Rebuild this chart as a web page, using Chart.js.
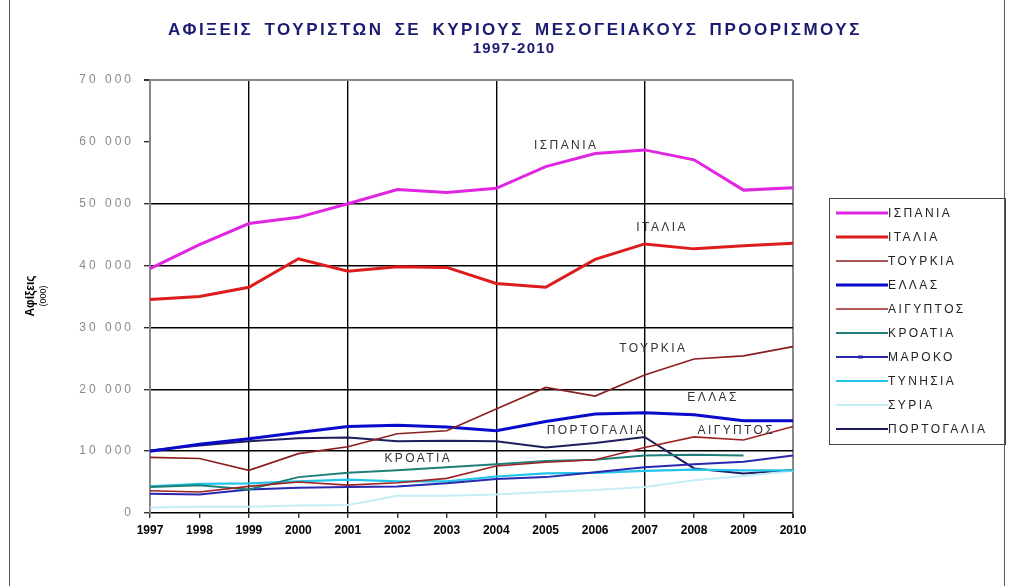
<!DOCTYPE html>
<html>
<head>
<meta charset="utf-8">
<script src="https://cdn.jsdelivr.net/npm/chart.js@4"></script>
<style>
  body { margin: 0; background: #fff; }
  #wrap { position: relative; width: 1011px; height: 586px; }
  #frame { position: absolute; left: 9px; top: 0; width: 994px; height: 586px;
           border-left: 1px solid #555; border-right: 1px solid #555; pointer-events: none; }
</style>
</head>
<body>
<div id="wrap">
  <canvas id="chartAfixeis" width="1011" height="586"></canvas>
  <div id="frame"></div>
</div>
<script>
var etos = ['1997', '1998', '1999', '2000', '2001', '2002', '2003', '2004', '2005', '2006', '2007', '2008', '2009', '2010'];

// afixeis se xiliades
var ispania    = [39500, 43400, 46800, 47800, 50000, 52300, 51800, 52500, 56000, 58100, 58700, 57100, 52200, 52600];
var italia     = [34500, 35000, 36500, 41100, 39100, 39800, 39700, 37100, 36500, 41000, 43500, 42700, 43200, 43600];
var tourkia    = [9000, 8800, 6900, 9600, 10700, 12800, 13300, 16800, 20300, 18900, 22300, 24900, 25400, 26900];
var ellas      = [10000, 11100, 12000, 13000, 14000, 14200, 13900, 13300, 14800, 16000, 16200, 15900, 14900, 14900];
var aigyptos   = [3600, 3400, 4300, 5000, 4500, 4900, 5600, 7600, 8200, 8600, 10600, 12300, 11800, 14000];
var kroatia    = [4200, 4500, 3800, 5800, 6500, 6900, 7400, 7900, 8400, 8600, 9300, 9400, 9300, null];
var maroko     = [3100, 3000, 3800, 4100, 4200, 4300, 4800, 5500, 5800, 6600, 7400, 7900, 8300, 9300];
var tynisia    = [4300, 4700, 4800, 5100, 5400, 5100, 5100, 5900, 6400, 6500, 6800, 7000, 6900, 6900];
var syria      = [900, 1000, 1000, 1200, 1300, 2800, 2800, 3000, 3400, 3700, 4200, 5300, 6000, 6800];
var portogalia = [10100, 10900, 11600, 12100, 12200, 11600, 11700, 11600, 10600, 11300, 12300, 7200, 6400, 6900];

var xores = ['ΙΣΠΑΝΙΑ', 'ΙΤΑΛΙΑ', 'ΤΟΥΡΚΙΑ', 'ΕΛΛΑΣ', 'ΑΙΓΥΠΤΟΣ', 'ΚΡΟΑΤΙΑ', 'ΜΑΡΟΚΟ', 'ΤΥΝΗΣΙΑ', 'ΣΥΡΙΑ', 'ΠΟΡΤΟΓΑΛΙΑ'];
var yTicks = [0, 10000, 20000, 30000, 40000, 50000, 60000, 70000];

var seires = [ispania, italia, tourkia, ellas, aigyptos, kroatia, maroko, tynisia, syria, portogalia];
var xromata = ['#e026e0', '#dd1c1c', '#8b1f1f', '#0a0acc', '#9c2424', '#1f7f78', '#2828b0', '#22c4ea', '#c4eef8', '#1e1e5e'];
var paxos = [3, 3, 1.6, 3, 1.6, 2, 2, 2.2, 2, 2];

var FONT = '"Liberation Sans", Arial, sans-serif';

// ta onomata mesa sto grafima (thesi se etos-index / timi)
var etiketes = [
    ['ΙΣΠΑΝΙΑ', 8.39, 59300],
    ['ΙΤΑΛΙΑ', 10.33, 46100],
    ['ΤΟΥΡΚΙΑ', 10.15, 26500],
    ['ΕΛΛΑΣ', 11.36, 18600],
    ['ΠΟΡΤΟΓΑΛΙΑ', 9.0, 13250],
    ['ΑΙΓΥΠΤΟΣ', 11.83, 13250],
    ['ΚΡΟΑΤΙΑ', 5.4, 8750]
];

var keimena = {
    id: 'keimena',
    afterDraw: function (chart) {
        var ctx = chart.ctx;
        var x = chart.scales.x;
        var y = chart.scales.y;
        ctx.save();

        // titlos
        ctx.fillStyle = '#1b1b72';
        ctx.font = 'bold 17px ' + FONT;
        ctx.textAlign = 'center';
        ctx.textBaseline = 'middle';
        ctx.letterSpacing = '2.5px';
        ctx.wordSpacing = '4px';
        ctx.fillText('ΑΦΙΞΕΙΣ ΤΟΥΡΙΣΤΩΝ ΣΕ ΚΥΡΙΟΥΣ ΜΕΣΟΓΕΙΑΚΟΥΣ ΠΡΟΟΡΙΣΜΟΥΣ', 515, 30);
        ctx.wordSpacing = '0px';
        ctx.font = 'bold 15px ' + FONT;
        ctx.letterSpacing = '1.2px';
        ctx.fillText('1997-2010', 514, 49);

        // etiketes aksona y
        ctx.fillStyle = '#8a8a8a';
        ctx.font = '12px ' + FONT;
        ctx.textAlign = 'right';
        ctx.letterSpacing = '3px';
        yTicks.forEach(function (v) {
            var t = v === 0 ? '0' : (v / 1000) + ' 000';
            ctx.fillText(t, x.left - 16, y.getPixelForValue(v));
        });

        // titlos aksona y
        ctx.letterSpacing = '0px';
        ctx.fillStyle = '#000';
        ctx.translate(31, 296);
        ctx.rotate(-Math.PI / 2);
        ctx.textAlign = 'center';
        ctx.font = 'bold 12px ' + FONT;
        ctx.fillText('Αφίξεις', 0, 0);
        ctx.font = '9px ' + FONT;
        ctx.fillText('(000)', 0, 13);
        ctx.setTransform(1, 0, 0, 1, 0, 0);

        // onomata xoron sto grafima
        ctx.fillStyle = '#333';
        ctx.font = '12px ' + FONT;
        ctx.letterSpacing = '2.4px';
        etiketes.forEach(function (e) {
            ctx.fillText(e[0], x.getPixelForValue(e[1]) + 1.2, y.getPixelForValue(e[2]));
        });

        // ypomnima
        var lx = 829, ly = 198, lw = 176, lh = 246;
        ctx.strokeStyle = '#444';
        ctx.lineWidth = 1;
        ctx.strokeRect(lx + 0.5, ly + 0.5, lw, lh);
        ctx.textAlign = 'left';
        ctx.font = '12px ' + FONT;
        ctx.letterSpacing = '2.4px';
        chart.data.datasets.forEach(function (ds, i) {
            var cy = ly + 15 + i * 24;
            ctx.strokeStyle = ds.borderColor;
            ctx.lineWidth = ds.borderWidth;
            ctx.beginPath();
            ctx.moveTo(836, cy);
            ctx.lineTo(888, cy);
            ctx.stroke();
            if (ds.label === 'ΜΑΡΟΚΟ') {
                ctx.fillStyle = ds.borderColor;
                ctx.fillRect(858, cy - 1.5, 5, 3);
            }
            ctx.fillStyle = '#222';
            ctx.fillText(ds.label, 888, cy + 1);
        });
        ctx.restore();
    }
};

var ctxAfixeis = document.getElementById('chartAfixeis');

new Chart(ctxAfixeis, {
    type: 'line',
    data: {
        labels: etos,
        datasets: xores.map(function (onoma, i) {
            return {
                label: onoma,
                data: seires[i],
                borderColor: xromata[i],
                backgroundColor: xromata[i],
                borderWidth: paxos[i],
                pointRadius: 0,
                tension: 0,
                spanGaps: false
            };
        })
    },
    options: {
        responsive: false,
        animation: false,
        layout: {
            padding: { left: 0, right: 218, top: 80, bottom: 0 }
        },
        plugins: {
            legend: { display: false },
            title: { display: false },
            tooltip: { enabled: false }
        },
        scales: {
            x: {
                offset: false,
                afterFit: function (scale) { scale.height = 73; },
                border: { color: '#000', width: 1.5 },
                grid: {
                    color: function (c) {
                        var l = c.tick && c.tick.label;
                        if (l === '2010') return '#888';
                        if (l === '1999' || l === '2001' || l === '2004' || l === '2007') return '#000';
                        return 'rgba(0,0,0,0)';
                    },
                    lineWidth: function (c) { return c.tick && c.tick.label === '2010' ? 2 : 1.4; },
                    tickColor: '#333',
                    tickLength: 5
                },
                ticks: {
                    autoSkip: false,
                    maxRotation: 0,
                    padding: 5,
                    color: '#000',
                    font: { family: FONT, size: 12, weight: 'bold' }
                }
            },
            y: {
                min: 0,
                max: 70000,
                afterFit: function (scale) { scale.width = 150; },
                border: { color: '#888', width: 2 },
                grid: {
                    color: function (c) {
                        var v = c.tick && c.tick.value;
                        if (v === 70000) return '#888';
                        if (v === 60000 || v === 0) return 'rgba(0,0,0,0)';
                        return '#000';
                    },
                    lineWidth: function (c) { return c.tick && c.tick.value === 70000 ? 2 : 1.4; },
                    tickColor: '#333',
                    tickLength: 6
                },
                ticks: {
                    stepSize: 10000,
                    color: 'rgba(0,0,0,0)',
                    font: { family: FONT, size: 11 }
                }
            }
        }
    },
    plugins: [keimena]
});
</script>
</body>
</html>
